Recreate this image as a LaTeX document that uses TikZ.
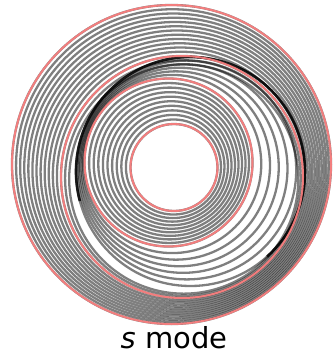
\documentclass[tikz,border=0pt]{standalone}
\usepackage{fontspec}
\setmainfont{DejaVu Sans}
\usepackage{tikz}
\definecolor{ringpink}{HTML}{FF7F7F}
\tikzset{ring/.style={draw=black,draw opacity=0.5,line width=2.3pt},
  bound/.style={draw=ringpink,draw opacity=0.9,line width=2pt}}

\begin{document}
\begin{tikzpicture}[x=1pt,y=-1pt]
    \useasboundingbox (0,0) rectangle (335,356);
    \foreach \i in {0,...,10} {
      \pgfmathsetmacro\fr{\i/10}
      \pgfmathsetmacro\px{174-5.5*\fr}
      \pgfmathsetmacro\py{167.5-5*\fr}
      \pgfmathsetmacro\rad{43.5+40.5*\fr}
      \draw[ring] (\px,\py) circle[radius=\rad pt];
    }
    \foreach \i in {1,...,6} {
      \pgfmathsetmacro\fr{\i/6}
      \pgfmathsetmacro\px{168.5+22*\fr}
      \pgfmathsetmacro\py{162.5+9*\fr}
      \pgfmathsetmacro\rad{84+30.5*\fr}
      \draw[ring] (\px,\py) circle[radius=\rad pt];
    }
    \foreach \i in {-2,...,12} {
      \pgfmathsetmacro\fr{\i/12}
      \pgfmathsetmacro\px{182-10.5*\fr}
      \pgfmathsetmacro\py{177-12.5*\fr}
      \pgfmathsetmacro\rad{121+38.5*\fr}
      \draw[ring] (\px,\py) circle[radius=\rad pt];
    }
    \coordinate (mid) at (190.5,171.5);
    \draw[black,draw opacity=0.8,line width=2.6pt] (mid) ++(-48:114.5pt) arc[start angle=-48,end angle=195,radius=114.5pt];
    \draw[bound] (174,167.5) circle[radius=43.5pt];
    \draw[bound] (168.5,162.5) circle[radius=84pt];
    \draw[bound] (182,177) circle[radius=121pt];
    \draw[bound] (171.5,164.5) circle[radius=159.5pt];
    \node[anchor=base,inner sep=0pt,font=\fontsize{29}{34}\selectfont] (label) at (174,348) {\textit{s} mode};
  \end{tikzpicture}
\end{document}
